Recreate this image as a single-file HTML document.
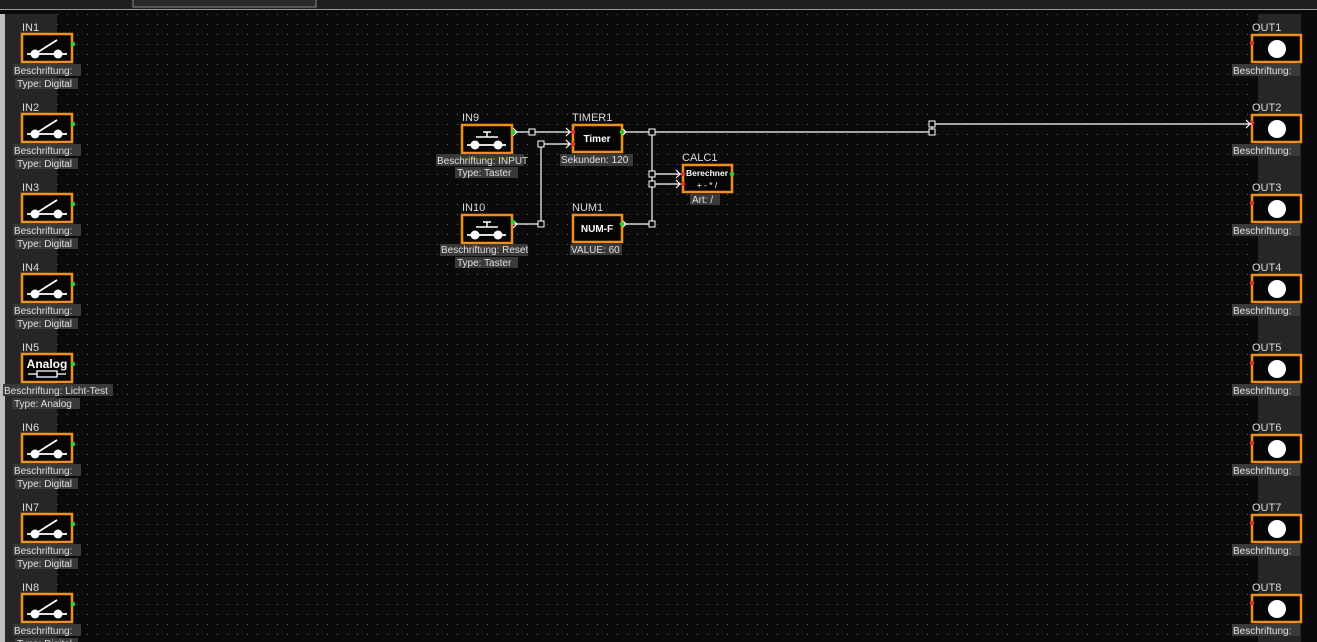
<!DOCTYPE html>
<html><head><meta charset="utf-8"><style>
html,body{margin:0;padding:0;background:#0a0a0a;width:1317px;height:642px;overflow:hidden}
svg{display:block}
text{font-family:"Liberation Sans",sans-serif;font-size:10px;fill:#e0e0e0}
.lb{fill:#3a3a3a}
.ttl{fill:#dcdcdc;font-size:11px}
</style></head><body>
<svg width="1317" height="642" xmlns="http://www.w3.org/2000/svg">
<defs>
<pattern id="dots" x="0" y="4" width="10" height="10" patternUnits="userSpaceOnUse">
<rect x="7" y="0" width="1" height="1" fill="#6a6a6a"/>
</pattern>
<g id="sw">
<rect x="0" y="0" width="50" height="28" fill="#050505" stroke="#f0901a" stroke-width="2.5"/>
<line x1="5" y1="20" x2="45" y2="20" stroke="#fff" stroke-width="1.8"/>
<circle cx="13" cy="20" r="4.5" fill="#fff"/><circle cx="36" cy="20" r="4.5" fill="#fff"/>
<line x1="13" y1="20" x2="35" y2="6" stroke="#fff" stroke-width="1.8"/>
<circle cx="51" cy="10" r="2.3" fill="#3c3"/>
</g>
<g id="ts">
<rect x="0" y="0" width="50" height="28" fill="#050505" stroke="#f0901a" stroke-width="2.5"/>
<line x1="5" y1="20" x2="44" y2="20" stroke="#fff" stroke-width="1.8"/>
<circle cx="13" cy="20" r="4.5" fill="#fff"/><circle cx="36" cy="20" r="4.5" fill="#fff"/>
<line x1="14" y1="12" x2="36" y2="12" stroke="#fff" stroke-width="1.5"/>
<line x1="25" y1="7" x2="25" y2="12" stroke="#fff" stroke-width="1.5"/>
<line x1="21" y1="7" x2="29" y2="7" stroke="#fff" stroke-width="1.5"/>
<circle cx="51" cy="7" r="2.3" fill="#3c3"/>
</g>
<g id="out">
<rect x="0" y="0" width="49" height="27" fill="#050505" stroke="#f0901a" stroke-width="2.5"/>
<circle cx="25" cy="14" r="9" fill="#fff"/>
<circle cx="0" cy="8" r="2.3" fill="#d33"/>
</g>
</defs>
<rect width="1317" height="642" fill="#0a0a0a"/>
<rect x="57" y="12" width="1200" height="630" fill="url(#dots)"/>
<!-- top bar -->
<rect x="0" y="0" width="1317" height="9" fill="#1e1e1e"/>
<rect x="133" y="-2" width="183" height="9" fill="#2a2a2a" stroke="#888" stroke-width="1"/>
<rect x="0" y="9" width="1317" height="1" fill="#9a9a9a"/>
<!-- left strip -->
<rect x="0" y="14" width="5" height="628" fill="#bdbdbd"/>
<rect x="5" y="14" width="52" height="628" fill="#262626"/>
<!-- right strip -->
<rect x="1258" y="14" width="43" height="628" fill="#262626"/>

<!-- IN nodes -->
<g transform="translate(0,0)"><text x="22" y="31" class="ttl">IN1</text><use href="#sw" x="22" y="34"/><rect class="lb" x="13" y="64" width="68" height="12"/><text x="14" y="74">Beschriftung:</text><rect class="lb" x="15" y="78" width="63" height="11"/><text x="17" y="87">Type: Digital</text></g>
<g transform="translate(0,80)"><text x="22" y="31" class="ttl">IN2</text><use href="#sw" x="22" y="34"/><rect class="lb" x="13" y="64" width="68" height="12"/><text x="14" y="74">Beschriftung:</text><rect class="lb" x="15" y="78" width="63" height="11"/><text x="17" y="87">Type: Digital</text></g>
<g transform="translate(0,160)"><text x="22" y="31" class="ttl">IN3</text><use href="#sw" x="22" y="34"/><rect class="lb" x="13" y="64" width="68" height="12"/><text x="14" y="74">Beschriftung:</text><rect class="lb" x="15" y="78" width="63" height="11"/><text x="17" y="87">Type: Digital</text></g>
<g transform="translate(0,240)"><text x="22" y="31" class="ttl">IN4</text><use href="#sw" x="22" y="34"/><rect class="lb" x="13" y="64" width="68" height="12"/><text x="14" y="74">Beschriftung:</text><rect class="lb" x="15" y="78" width="63" height="11"/><text x="17" y="87">Type: Digital</text></g>
<g transform="translate(0,320)"><text x="22" y="31" class="ttl">IN5</text>
<rect x="22" y="34" width="50" height="28" fill="#050505" stroke="#f0901a" stroke-width="2.5"/>
<text x="47" y="48" text-anchor="middle" style="font-size:12px;font-weight:bold;fill:#fff">Analog</text>
<rect x="37" y="51" width="20" height="6" fill="none" stroke="#fff" stroke-width="1.3"/>
<line x1="28" y1="54" x2="37" y2="54" stroke="#fff" stroke-width="1.3"/><line x1="57" y1="54" x2="66" y2="54" stroke="#fff" stroke-width="1.3"/>
<circle cx="73" cy="44" r="2.3" fill="#3c3"/>
<rect class="lb" x="3" y="64" width="110" height="12"/><text x="4" y="74">Beschriftung: Licht-Test</text><rect class="lb" x="12" y="78" width="68" height="11"/><text x="14" y="87">Type: Analog</text></g>
<g transform="translate(0,400)"><text x="22" y="31" class="ttl">IN6</text><use href="#sw" x="22" y="34"/><rect class="lb" x="13" y="64" width="68" height="12"/><text x="14" y="74">Beschriftung:</text><rect class="lb" x="15" y="78" width="63" height="11"/><text x="17" y="87">Type: Digital</text></g>
<g transform="translate(0,480)"><text x="22" y="31" class="ttl">IN7</text><use href="#sw" x="22" y="34"/><rect class="lb" x="13" y="64" width="68" height="12"/><text x="14" y="74">Beschriftung:</text><rect class="lb" x="15" y="78" width="63" height="11"/><text x="17" y="87">Type: Digital</text></g>
<g transform="translate(0,560)"><text x="22" y="31" class="ttl">IN8</text><use href="#sw" x="22" y="34"/><rect class="lb" x="13" y="64" width="68" height="12"/><text x="14" y="74">Beschriftung:</text><rect class="lb" x="15" y="78" width="63" height="11"/><text x="17" y="87">Type: Digital</text></g>

<!-- OUT nodes -->
<g transform="translate(0,0)"><text x="1252" y="31" class="ttl">OUT1</text><use href="#out" x="1252" y="35"/><rect class="lb" x="1232" y="64" width="68" height="12"/><text x="1233" y="74">Beschriftung:</text></g>
<g transform="translate(0,80)"><text x="1252" y="31" class="ttl">OUT2</text><use href="#out" x="1252" y="35"/><rect class="lb" x="1232" y="64" width="68" height="12"/><text x="1233" y="74">Beschriftung:</text></g>
<g transform="translate(0,160)"><text x="1252" y="31" class="ttl">OUT3</text><use href="#out" x="1252" y="35"/><rect class="lb" x="1232" y="64" width="68" height="12"/><text x="1233" y="74">Beschriftung:</text></g>
<g transform="translate(0,240)"><text x="1252" y="31" class="ttl">OUT4</text><use href="#out" x="1252" y="35"/><rect class="lb" x="1232" y="64" width="68" height="12"/><text x="1233" y="74">Beschriftung:</text></g>
<g transform="translate(0,320)"><text x="1252" y="31" class="ttl">OUT5</text><use href="#out" x="1252" y="35"/><rect class="lb" x="1232" y="64" width="68" height="12"/><text x="1233" y="74">Beschriftung:</text></g>
<g transform="translate(0,400)"><text x="1252" y="31" class="ttl">OUT6</text><use href="#out" x="1252" y="35"/><rect class="lb" x="1232" y="64" width="68" height="12"/><text x="1233" y="74">Beschriftung:</text></g>
<g transform="translate(0,480)"><text x="1252" y="31" class="ttl">OUT7</text><use href="#out" x="1252" y="35"/><rect class="lb" x="1232" y="64" width="68" height="12"/><text x="1233" y="74">Beschriftung:</text></g>
<g transform="translate(0,560)"><text x="1252" y="31" class="ttl">OUT8</text><use href="#out" x="1252" y="35"/><rect class="lb" x="1232" y="64" width="68" height="12"/><text x="1233" y="74">Beschriftung:</text></g>

<!-- wires -->
<g stroke="#fff" stroke-width="1.2" fill="none">
<path d="M513 132H572"/>
<path d="M513 224H541V144H572"/>
<path d="M622 132H932V124H1252"/>
<path d="M622 224H652V132"/>
<path d="M652 174H682M652 184H682"/>
<path d="M513 128l4 4-4 4M566 128l4 4-4 4M566 140l4 4-4 4M513 220l4 4-4 4M622 128l4 4-4 4M622 220l4 4-4 4M676 170l4 4-4 4M676 180l4 4-4 4M1246 120l4 4-4 4"/>
</g>
<g fill="#0a0a0a" stroke="#fff" stroke-width="1">
<rect x="529" y="129" width="6" height="6"/><rect x="538" y="141" width="6" height="6"/><rect x="538" y="221" width="6" height="6"/>
<rect x="649" y="129" width="6" height="6"/><rect x="649" y="171" width="6" height="6"/><rect x="649" y="181" width="6" height="6"/><rect x="649" y="221" width="6" height="6"/>
<rect x="929" y="121" width="6" height="6"/><rect x="929" y="129" width="6" height="6"/>
</g>

<!-- IN9 -->
<text x="462" y="121" class="ttl">IN9</text><use href="#ts" x="462" y="125"/>
<rect class="lb" x="436" y="154" width="88" height="12"/><text x="437" y="164">Beschriftung: INPUT</text>
<rect class="lb" x="455" y="167" width="63" height="11"/><text x="457" y="176">Type: Taster</text>
<!-- IN10 -->
<text x="462" y="211" class="ttl">IN10</text><use href="#ts" x="462" y="215"/>
<rect class="lb" x="440" y="244" width="88" height="12"/><text x="441" y="253">Beschriftung: Reset</text>
<rect class="lb" x="455" y="257" width="63" height="11"/><text x="457" y="266">Type: Taster</text>
<!-- TIMER1 -->
<text x="572" y="121" class="ttl">TIMER1</text>
<rect x="573" y="125" width="49" height="27" fill="#050505" stroke="#f0901a" stroke-width="2.5"/>
<text x="597" y="142" text-anchor="middle" style="font-weight:bold;fill:#fff">Timer</text>
<circle cx="573" cy="132" r="2.3" fill="#d33"/><circle cx="573" cy="144" r="2.3" fill="#d33"/><circle cx="622" cy="132" r="2.3" fill="#3c3"/>
<rect class="lb" x="560" y="154" width="73" height="12"/><text x="561" y="163">Sekunden: 120</text>
<!-- NUM1 -->
<text x="572" y="211" class="ttl">NUM1</text>
<rect x="573" y="215" width="49" height="27" fill="#050505" stroke="#f0901a" stroke-width="2.5"/>
<text x="597" y="232" text-anchor="middle" style="font-weight:bold;fill:#fff">NUM-F</text>
<circle cx="622" cy="224" r="2.3" fill="#3c3"/>
<rect class="lb" x="570" y="244" width="52" height="11"/><text x="571" y="253">VALUE: 60</text>
<!-- CALC1 -->
<text x="682" y="161" class="ttl">CALC1</text>
<rect x="683" y="165" width="49" height="27" fill="#050505" stroke="#f0901a" stroke-width="2.5"/>
<text x="707" y="176" text-anchor="middle" style="font-size:8.5px;font-weight:bold;fill:#fff">Berechner</text>
<text x="707" y="188" text-anchor="middle" style="font-size:8.5px;fill:#fff">+ - * /</text>
<circle cx="683" cy="174" r="2.3" fill="#d33"/><circle cx="683" cy="184" r="2.3" fill="#d33"/><circle cx="732" cy="174" r="2.3" fill="#3c3"/>
<rect class="lb" x="690" y="194" width="30" height="11"/><text x="692" y="203">Art: /</text>
</svg>
</body></html>
